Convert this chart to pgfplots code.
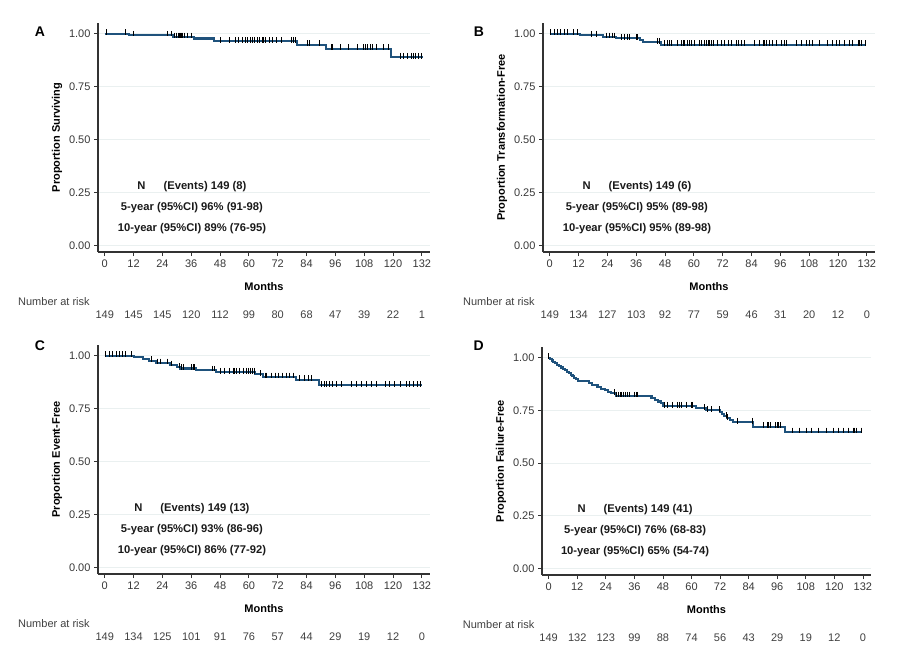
\documentclass[border=0pt]{standalone}
\usepackage{fontspec}
\setmainfont{Liberation Sans}
\usepackage{pgfplots}
\pgfplotsset{compat=1.18}

\definecolor{kmblue}{RGB}{31,82,124}
\definecolor{gridc}{RGB}{234,240,240}
\definecolor{axc}{RGB}{51,51,51}

\tikzset{
  risk/.style={font=\fontsize{11}{13}\selectfont, text=black!75},
  stat/.style={font=\bfseries\fontsize{11.2}{13}\selectfont, text=black!90},
  letter/.style={font=\bfseries\fontsize{14}{16}\selectfont},
}

\pgfplotsset{
  km/.style={
    scale only axis, width=332pt, height=229pt,
    xmin=-2.8, xmax=135.4, ymin=-0.03, ymax=1.05,
    axis lines=left, axis line style={-, line width=1.1pt, axc},
    xtick={0,12,...,132}, ytick={0,0.25,0.5,0.75,1},
    yticklabel style={/pgf/number format/fixed, /pgf/number format/fixed zerofill, /pgf/number format/precision=2},
    /pgf/number format/assume math mode=true,
    tick align=outside, major tick length=4pt, tick style={axc, line width=0.8pt},
    ymajorgrids, grid style={gridc, line width=0.9pt},
    tick label style={font=\fontsize{11}{13}\selectfont, text=black!78},
    label style={font=\bfseries\fontsize{11}{13}\selectfont},
    xlabel={Months}, xlabel style={yshift=-8pt},
    clip=false,
  },
  surv/.style={const plot, kmblue, line width=2.1pt},
  censor/.style={only marks, mark=|, mark size=2.8pt, mark options={black, line width=0.9pt, yshift=1.4pt}},
}

% number at risk row under an axis
\newcommand{\riskrow}[1]{%
  \node[risk, anchor=west] at (axis cs:-37.5,-0.266) {Number at risk};
  \foreach \n [count=\i from 0] in {#1} {%
    \edef\temp{\noexpand\node[risk] at (axis cs:\the\numexpr12*\i\relax,-0.325) {\n};}\temp}%
}
% summary text inside the plot
\newcommand{\stats}[3]{%
  \node[stat] at (axis cs:36.3,0.278) {N\hspace{18pt}(Events) 149 (#1)};
  \node[stat] at (axis cs:36.3,0.179) {5-year (95\%CI) #2};
  \node[stat] at (axis cs:36.3,0.079) {10-year (95\%CI) #3};
}

\begin{document}
\begin{tikzpicture}

% ---------- A: overall survival ----------
\begin{axis}[km, at={(98pt,405pt)}, anchor=south west, ylabel={Proportion Surviving}]
\addplot[surv] coordinates {
 (0,1)(10,0.993)(28.5,0.985)(37,0.977)(45.5,0.963)(80,0.948)(92,0.929)(119,0.889)(132.6,0.889)};
\addplot[censor] coordinates {
 (0.7,1)(8.7,1)(11.8,0.993)(26,0.993)(27.8,0.993)
 (29,0.985)(30,0.985)(30.5,0.985)(31,0.985)(31.5,0.985)(32,0.985)(32.5,0.985)(33,0.985)(34.5,0.985)(36,0.985)
 (48.3,0.963)(52,0.963)(54.5,0.963)(55.5,0.963)(57.5,0.963)(58.5,0.963)(59.5,0.963)(60.5,0.963)(61.5,0.963)
 (62.5,0.963)(63.5,0.963)(64.5,0.963)(65.5,0.963)(66,0.963)(67,0.963)(68.5,0.963)(70,0.963)(71.5,0.963)
 (73.5,0.963)(77.8,0.963)(78.5,0.963)(79.3,0.963)
 (84.5,0.948)(85.2,0.948)(89.5,0.948)
 (94.5,0.929)(95,0.929)(98,0.929)(101.5,0.929)(105,0.929)(107.5,0.929)(108.5,0.929)(109.5,0.929)
 (110.5,0.929)(111.5,0.929)(113,0.929)(116,0.929)(118,0.929)
 (123,0.889)(124.5,0.889)(126,0.889)(127.5,0.889)(128.5,0.889)(129.5,0.889)(130.5,0.889)(132,0.889)};
\stats{8}{96\% (91-98)}{89\% (76-95)}
\node[letter] at (axis cs:-27,1.007) {A};
\riskrow{149,145,145,120,112,99,80,68,47,39,22,1}
\end{axis}

% ---------- B: transformation-free ----------
\begin{axis}[km, at={(543pt,405pt)}, anchor=south west, ylabel={Proportion Transformation-Free}]
\addplot[surv] coordinates {
 (0,1)(12.5,0.9929)(22.2,0.9853)(27.7,0.9775)(37.4,0.968)(38.8,0.9585)(46.5,0.9482)(131.7,0.9482)};
\addplot[censor] coordinates {
 (0.4,1)(1.8,1)(3.2,1)(4.6,1)(6,1)(7.3,1)(9.7,1)(11.5,1)
 (17.3,0.9929)(19.4,0.9929)
 (23.6,0.9853)(24.8,0.9853)(26,0.9853)(27.1,0.9853)
 (29.9,0.9775)(31,0.9775)(32.2,0.9775)(33.3,0.9775)(36,0.9775)(36.6,0.9775)
 (44.8,0.9585)(45.8,0.9585)
 (47.9,0.9482)(49.2,0.9482)(50,0.9482)(50.6,0.9482)(53.3,0.9482)(54.7,0.9482)(55.5,0.9482)(56.2,0.9482)
 (57.5,0.9482)(58.2,0.9482)(58.9,0.9482)(60.3,0.9482)(62.4,0.9482)(63.1,0.9482)(64.5,0.9482)(65.2,0.9482)
 (66,0.9482)(66.6,0.9482)(67.3,0.9482)(68,0.9482)(70,0.9482)(71.4,0.9482)(72.8,0.9482)(74.2,0.9482)
 (75.5,0.9482)(77.6,0.9482)(78.6,0.9482)(79.7,0.9482)(81.2,0.9482)(85.3,0.9482)(87.3,0.9482)(88.8,0.9482)
 (89.5,0.9482)(90.1,0.9482)(91.5,0.9482)(92.9,0.9482)(94.3,0.9482)(96.4,0.9482)(97.5,0.9482)(98.5,0.9482)
 (102.6,0.9482)(104.7,0.9482)(106.7,0.9482)(108.1,0.9482)(109.5,0.9482)(112.3,0.9482)(115.7,0.9482)
 (117.8,0.9482)(119.2,0.9482)(120.6,0.9482)(122.7,0.9482)(124.8,0.9482)(126.2,0.9482)(128.3,0.9482)
 (129,0.9482)(129.6,0.9482)(131.3,0.9482)};
\stats{6}{95\% (89-98)}{95\% (89-98)}
\node[letter] at (axis cs:-29.5,1.007) {B};
\riskrow{149,134,127,103,92,77,59,46,31,20,12,0}
\end{axis}

% ---------- C: event-free ----------
\begin{axis}[km, at={(98pt,83pt)}, anchor=south west, ylabel={Proportion Event-Free}]
\addplot[surv] coordinates {
 (0,1)(12,0.993)(16,0.986)(18.5,0.976)(21.5,0.966)(27,0.956)(30,0.946)(31.5,0.939)(38,0.932)
 (46.5,0.922)(62.5,0.912)(66,0.900)(79.5,0.887)(89.3,0.860)(132,0.860)};
\addplot[censor] coordinates {
 (0.5,1)(1.9,1)(3.3,1)(4.7,1)(6.1,1)(7.5,1)(8.8,1)(11.3,1)
 (19.4,0.976)(21.8,0.966)(23.3,0.966)(26,0.966)
 (27.8,0.956)(31,0.946)(32,0.939)(32.6,0.939)(36.1,0.939)(36.8,0.939)(37.5,0.939)
 (44.9,0.932)(45.8,0.932)
 (48.2,0.922)(50,0.922)(51.8,0.922)(53.5,0.922)(54.2,0.922)(54.9,0.922)(56.25,0.922)(57.6,0.922)
 (59,0.922)(59.8,0.922)(60.6,0.922)(61.4,0.922)(62.2,0.922)
 (65,0.912)
 (66.7,0.9)(67.4,0.9)(69.4,0.9)(71,0.9)(72.5,0.9)(74,0.9)(75.5,0.9)(77,0.9)(78.5,0.9)
 (81.25,0.887)(83.3,0.887)(84.7,0.887)(86.1,0.887)
 (90.3,0.86)(91.5,0.86)(92.5,0.86)(93.6,0.86)(95,0.86)(96.5,0.86)(98.6,0.86)(102.8,0.86)(104.9,0.86)
 (107,0.86)(109,0.86)(111,0.86)(113.2,0.86)(116.7,0.86)(118.7,0.86)(120.8,0.86)(122.9,0.86)
 (125.7,0.86)(127,0.86)(128.5,0.86)(130,0.86)(131.25,0.86)};
\stats{13}{93\% (86-96)}{86\% (77-92)}
\node[letter] at (axis cs:-27,1.046) {C};
\riskrow{149,134,125,101,91,76,57,44,29,19,12,0}
\end{axis}

% ---------- D: failure-free ----------
\begin{axis}[km, at={(542pt,82pt)}, anchor=south west, width=329pt, height=228pt,
  ylabel={Proportion Failure-Free}]
\addplot[surv] coordinates {
 (0,1)(0.6,0.993)(1.3,0.986)(2.0,0.980)(2.8,0.973)(3.5,0.966)(4.4,0.960)(5.3,0.953)(6.0,0.946)
 (6.8,0.940)(7.6,0.933)(8.4,0.926)(9.3,0.919)(10.0,0.912)(10.8,0.905)(11.6,0.898)(12.3,0.889)
 (17.0,0.879)(18.2,0.868)(20.5,0.860)(22.0,0.853)(23.5,0.846)(24.9,0.838)(26.2,0.830)(28.4,0.818)
 (43.2,0.810)(44.5,0.801)(45.8,0.792)(47.0,0.783)(48.0,0.770)(62.0,0.760)(66.3,0.750)
 (71.9,0.740)(72.8,0.731)(73.8,0.722)(75.0,0.713)(76.3,0.703)(77.4,0.694)(85.8,0.673)(99.1,0.648)
 (131.7,0.648)};
\addplot[censor] coordinates {
 (0.1,1)(27.7,0.830)
 (28.6,0.818)(29.2,0.818)(30,0.818)(30.7,0.818)(31.4,0.818)(32.2,0.818)(32.9,0.818)(34,0.818)
 (36,0.818)(36.7,0.818)(37.5,0.818)
 (48.7,0.77)(50.1,0.77)(52.2,0.77)(54.3,0.77)(55,0.77)(55.7,0.77)(57.8,0.77)(59.9,0.77)(60.6,0.77)
 (65.5,0.76)(66.9,0.75)(68.3,0.75)(71.8,0.75)(74.6,0.722)(75.3,0.713)
 (79.2,0.694)(85.5,0.694)
 (90.4,0.673)(91.8,0.673)(92.5,0.673)(93.2,0.673)(95.3,0.673)(96,0.673)(96.7,0.673)(97.4,0.673)
 (102.6,0.648)(105.4,0.648)(108.2,0.648)(110.4,0.648)(113.2,0.648)(116.7,0.648)(119.5,0.648)
 (121.6,0.648)(123.7,0.648)(125.8,0.648)(127.9,0.648)(128.5,0.648)(129.2,0.648)(131.3,0.648)};
\stats{41}{76\% (68-83)}{65\% (54-74)}
\node[letter] at (axis cs:-29.4,1.054) {D};
\riskrow{149,132,123,99,88,74,56,43,29,19,12,0}
\end{axis}

\pgfresetboundingbox
\useasboundingbox (0,0) rectangle (915pt,657pt);
\end{tikzpicture}
\end{document}
